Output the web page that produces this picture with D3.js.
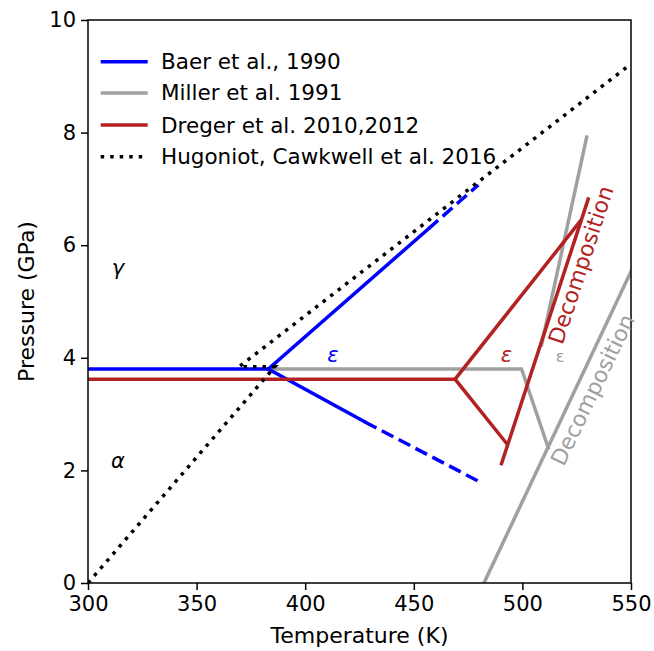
<!DOCTYPE html>
<html>
<head>
<meta charset="utf-8">
<script src="https://cdn.jsdelivr.net/npm/d3@7"></script>
<style>
  html, body { margin: 0; padding: 0; background: #fff; }
  svg { display: block; font-family: "DejaVu Sans", sans-serif; }
</style>
</head>
<body>
<svg id="chart" width="654" height="651"></svg>
<script>
// Phase boundaries of the solid, temperature (K) vs pressure (GPa)
const baerFlat   = [[300, 3.80], [383, 3.80]];
const baerUpper  = [[383, 3.80], [456.7, 6.29]];
const baerUpperX = [[456.7, 6.29], [479.7, 7.07]];   // extrapolated part
const baerLower  = [[383, 3.80], [427.5, 2.86]];
const baerLowerX = [[427.5, 2.86], [480.2, 1.80]];   // extrapolated part

const millerFlat   = [[383, 3.80], [499.6, 3.80], [511.9, 2.40]];
const millerSteep  = [[508.8, 4.23], [529.6, 7.92]];
const millerDecomp = [[482.3, 0.00], [550.3, 5.56]];

const dregerFlat   = [[300, 3.62], [469, 3.62]];
const dregerUpper  = [[469, 3.62], [526.5, 6.42]];
const dregerLower  = [[469, 3.62], [492.7, 2.48]];
const dregerDecomp = [[490.4, 2.12], [530.3, 6.82]];

const hugoniot = [[300, 0.00], [386, 3.84], [369.5, 3.84], [550, 9.22]];

const xTicks = [300, 350, 400, 450, 500, 550];
const yTicks = [0, 2, 4, 6, 8, 10];

const legendItems = [
  { label: "Baer et al., 1990", color: "#0000ff", dash: null },
  { label: "Miller et al. 1991", color: "#a0a0a0", dash: null },
  { label: "Dreger et al. 2010,2012", color: "#b22222", dash: null },
  { label: "Hugoniot, Cawkwell et al. 2016", color: "#000000", dash: "3.5,6" }
];

const phaseLabels = [
  { text: "γ", T: 313.8, P: 5.60, color: "#000", italic: true, size: 21 },
  { text: "α", T: 313.8, P: 2.16, color: "#000", italic: true, size: 21 },
  { text: "ε", T: 412.8, P: 4.05, color: "#0000ff", italic: true, size: 21 },
  { text: "ε", T: 492.7, P: 4.05, color: "#b22222", italic: true, size: 21 },
  { text: "ε", T: 517.3, P: 4.02, color: "#a0a0a0", italic: false, size: 16 }
];

const decompLabels = [
  { text: "Decomposition", T: 527.0, P: 5.65, angle: -71.9, color: "#b22222" },
  { text: "Decomposition", T: 532.4, P: 3.43, angle: -64.2, color: "#a0a0a0" }
];

const W = 654, H = 651;
const margin = { left: 88, right: 23, top: 20, bottom: 68 };
const svg = d3.select("#chart");

const x = d3.scaleLinear().domain([300, 550]).range([margin.left, W - margin.right]);
const y = d3.scaleLinear().domain([0, 10]).range([H - margin.bottom, margin.top]);

const line = d3.line().x(d => x(d[0])).y(d => y(d[1]));

const plot = svg.append("g");
plot.append("defs").append("clipPath").attr("id", "clip")
  .append("rect")
  .attr("x", margin.left).attr("y", margin.top)
  .attr("width", W - margin.left - margin.right)
  .attr("height", H - margin.top - margin.bottom);

const marks = plot.append("g").attr("clip-path", "url(#clip)");

function draw(data, color, dash) {
  marks.append("path")
    .attr("d", line(data))
    .attr("fill", "none")
    .attr("stroke", color)
    .attr("stroke-width", 3.5)
    .attr("stroke-linejoin", "miter")
    .attr("stroke-linecap", dash ? "butt" : "square")
    .attr("stroke-dasharray", dash);
}

draw(millerFlat, "#a0a0a0");
draw(millerSteep, "#a0a0a0");
draw(millerDecomp, "#a0a0a0");
draw(baerFlat, "#0000ff");
draw(baerUpper, "#0000ff");
draw(baerLower, "#0000ff");
draw(baerUpperX, "#0000ff", "13,6");
draw(baerLowerX, "#0000ff", "13,6");
draw(dregerFlat, "#b22222");
draw(dregerUpper, "#b22222");
draw(dregerLower, "#b22222");
draw(dregerDecomp, "#b22222");
draw(hugoniot, "#000000", "3.5,6");

// Axes
const xAxis = d3.axisBottom(x).tickValues(xTicks).tickSize(7).tickPadding(6).tickFormat(d3.format("d"));
const yAxis = d3.axisLeft(y).tickValues(yTicks).tickSize(7).tickPadding(5).tickFormat(d3.format("d"));

const gx = svg.append("g").attr("transform", `translate(0,${H - margin.bottom})`).call(xAxis);
const gy = svg.append("g").attr("transform", `translate(${margin.left},0)`).call(yAxis);
[gx, gy].forEach(g => {
  g.select(".domain").remove();
  g.selectAll(".tick line").attr("stroke", "#000").attr("stroke-width", 1.5);
  g.selectAll(".tick text").attr("fill", "#000").style("font-size", "21px")
    .style("font-family", "'DejaVu Sans', sans-serif");
});

// Frame
svg.append("rect")
  .attr("x", margin.left).attr("y", margin.top)
  .attr("width", W - margin.left - margin.right)
  .attr("height", H - margin.top - margin.bottom)
  .attr("fill", "none").attr("stroke", "#000").attr("stroke-width", 1.5);

// Axis titles
svg.append("text")
  .attr("x", (margin.left + W - margin.right) / 2).attr("y", 643)
  .attr("text-anchor", "middle").style("font-size", "22px")
  .text("Temperature (K)");
svg.append("text")
  .attr("transform", `translate(26,${(margin.top + H - margin.bottom) / 2}) rotate(-90)`)
  .attr("text-anchor", "middle").attr("dominant-baseline", "central").style("font-size", "22px")
  .text("Pressure (GPa)");

// Phase labels
phaseLabels.forEach(d => {
  svg.append("text")
    .attr("x", x(d.T)).attr("y", y(d.P))
    .attr("text-anchor", "middle").attr("dominant-baseline", "central")
    .style("font-size", d.size + "px")
    .style("font-style", d.italic ? "italic" : "normal")
    .attr("fill", d.color)
    .text(d.text);
});

decompLabels.forEach(d => {
  svg.append("text")
    .attr("transform", `translate(${x(d.T)},${y(d.P)}) rotate(${d.angle})`)
    .attr("text-anchor", "middle").attr("dominant-baseline", "central")
    .style("font-size", "22px")
    .attr("fill", d.color)
    .text(d.text);
});

// Legend
const legend = svg.append("g");
const rowY = [61.7, 92.9, 125, 156.7];
legendItems.forEach((d, i) => {
  legend.append("line")
    .attr("x1", 100.7).attr("x2", 147.7)
    .attr("y1", rowY[i]).attr("y2", rowY[i])
    .attr("stroke", d.color).attr("stroke-width", 3.5)
    .attr("stroke-dasharray", d.dash);
  legend.append("text")
    .attr("x", 161).attr("y", rowY[i])
    .attr("dominant-baseline", "central")
    .style("font-size", "21.5px")
    .text(d.label);
});
</script>
</body>
</html>
